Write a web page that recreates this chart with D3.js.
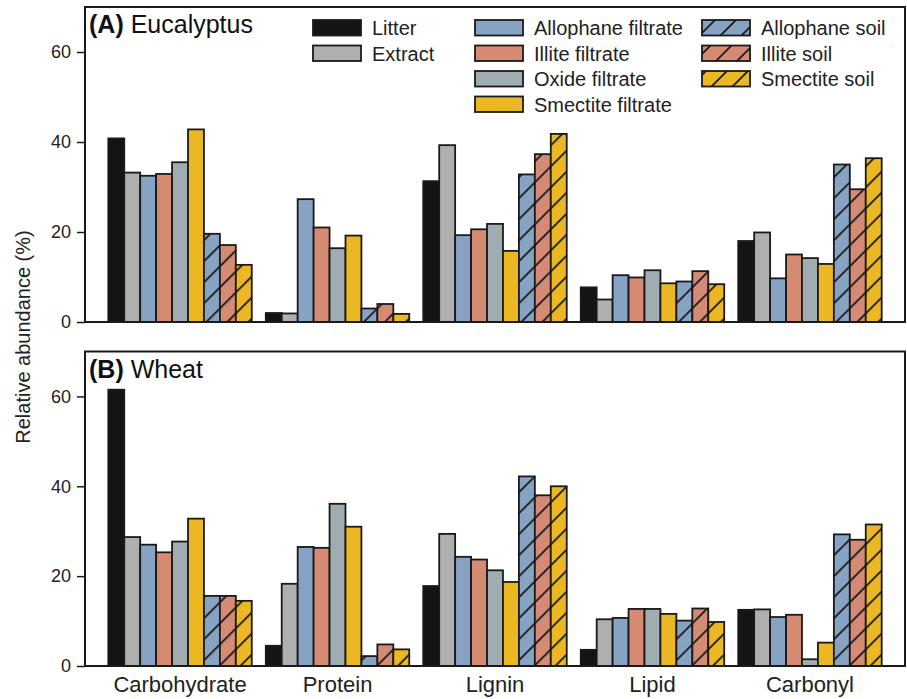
<!DOCTYPE html>
<html>
<head>
<meta charset="utf-8">
<script src="https://cdn.jsdelivr.net/npm/d3@7"></script>
<style>
  body { margin: 0; background: #fff; }
  svg { font-family: "Liberation Sans", Arial, sans-serif; }
</style>
</head>
<body>
<svg id="chart" width="907" height="699"></svg>
<script>
const categories = ['Carbohydrate', 'Protein', 'Lignin', 'Lipid', 'Carbonyl'];
const seriesNames = ['Litter', 'Extract', 'Allophane filtrate', 'Illite filtrate', 'Oxide filtrate',
  'Smectite filtrate', 'Allophane soil', 'Illite soil', 'Smectite soil'];
const seriesColors = ['#131513', '#afafaf', '#86a3c3', '#d58a74', '#a0adb0', '#ebb824', '#86a3c3', '#d58a74', '#ebb824'];
const seriesHatched = [false, false, false, false, false, false, true, true, true];
const yTicks = [0, 20, 40, 60];

// (A) Eucalyptus, one array per series, in category order
const eucLitter = [40.8, 2.0, 31.3, 7.7, 18.0];
const eucExtract = [33.2, 1.9, 39.3, 5.0, 19.9];
const eucAllophaneFiltrate = [32.5, 27.3, 19.3, 10.4, 9.7];
const eucIlliteFiltrate = [32.9, 21.0, 20.6, 9.9, 15.0];
const eucOxideFiltrate = [35.5, 16.4, 21.8, 11.5, 14.2];
const eucSmectiteFiltrate = [42.8, 19.2, 15.8, 8.6, 12.9];
const eucAllophaneSoil = [19.6, 3.0, 32.8, 9.0, 35.0];
const eucIlliteSoil = [17.1, 4.0, 37.3, 11.3, 29.5];
const eucSmectiteSoil = [12.7, 1.8, 41.8, 8.4, 36.4];

// (B) Wheat
const whtLitter = [61.5, 4.5, 17.8, 3.6, 12.5];
const whtExtract = [28.7, 18.3, 29.4, 10.4, 12.6];
const whtAllophaneFiltrate = [27.0, 26.5, 24.3, 10.7, 10.9];
const whtIlliteFiltrate = [25.3, 26.3, 23.7, 12.7, 11.4];
const whtOxideFiltrate = [27.7, 36.1, 21.3, 12.7, 1.5];
const whtSmectiteFiltrate = [32.8, 31.0, 18.7, 11.6, 5.2];
const whtAllophaneSoil = [15.6, 2.2, 42.2, 10.1, 29.3];
const whtIlliteSoil = [15.6, 4.8, 38.0, 12.8, 28.1];
const whtSmectiteSoil = [14.5, 3.7, 40.0, 9.8, 31.5];

const panels = [
  { letter: '(A)', name: 'Eucalyptus', top: 7, bottom: 322, xLabels: false,
    series: [eucLitter, eucExtract, eucAllophaneFiltrate, eucIlliteFiltrate, eucOxideFiltrate,
      eucSmectiteFiltrate, eucAllophaneSoil, eucIlliteSoil, eucSmectiteSoil] },
  { letter: '(B)', name: 'Wheat', top: 351.5, bottom: 666, xLabels: true,
    series: [whtLitter, whtExtract, whtAllophaneFiltrate, whtIlliteFiltrate, whtOxideFiltrate,
      whtSmectiteFiltrate, whtAllophaneSoil, whtIlliteSoil, whtSmectiteSoil] }
];

const svg = d3.select('#chart');
const left = 85, right = 905;
const ink = '#1a1a1a';

// hatch patterns for the soil series
const defs = svg.append('defs');
seriesNames.forEach((name, i) => {
  if (!seriesHatched[i]) return;
  const p = defs.append('pattern')
    .attr('id', 'hatch' + i)
    .attr('patternUnits', 'userSpaceOnUse')
    .attr('width', 21)
    .attr('height', 21);
  p.append('rect').attr('width', 21).attr('height', 21).attr('fill', seriesColors[i]);
  p.append('path')
    .attr('d', 'M0,21L21,0M-6,6L6,-6M15,27L27,15')
    .attr('stroke', ink)
    .attr('stroke-width', 1.8);
});
const fillFor = i => seriesHatched[i] ? `url(#hatch${i})` : seriesColors[i];

const x0 = d3.scaleBand()
  .domain(categories)
  .range([left, right])
  .paddingInner(0.089)
  .paddingOuter(0.148);

const x1 = d3.scaleBand()
  .domain(d3.range(seriesNames.length))
  .range([0, x0.bandwidth()]);

panels.forEach(panel => {
  const y = d3.scaleLinear()
    .domain([0, 70])
    .range([panel.bottom, panel.top]);

  const g = svg.append('g');

  // bars
  categories.forEach((cat, ci) => {
    g.append('g')
      .attr('transform', `translate(${x0(cat)},0)`)
      .selectAll('rect')
      .data(panel.series.map((vals, si) => ({ si, v: vals[ci] })))
      .join('rect')
      .attr('x', d => x1(d.si))
      .attr('y', d => y(d.v))
      .attr('width', x1.bandwidth())
      .attr('height', d => y(0) - y(d.v))
      .attr('fill', d => fillFor(d.si))
      .attr('stroke', ink)
      .attr('stroke-width', 1.8);
  });

  // frame
  g.append('rect')
    .attr('x', left)
    .attr('y', panel.top)
    .attr('width', right - left)
    .attr('height', panel.bottom - panel.top)
    .attr('fill', 'none')
    .attr('stroke', ink)
    .attr('stroke-width', 2);

  // y axis
  const yAxis = g.append('g')
    .attr('transform', `translate(${left},0)`)
    .call(d3.axisLeft(y).tickValues(yTicks).tickSize(8).tickPadding(6));
  yAxis.select('.domain').remove();
  yAxis.selectAll('line').attr('stroke', ink).attr('stroke-width', 1.5);
  yAxis.selectAll('text')
    .attr('font-size', 18)
    .attr('font-family', '"Liberation Sans", Arial, sans-serif')
    .attr('fill', '#222');

  if (panel.xLabels) {
    const xAxis = g.append('g')
      .attr('transform', `translate(0,${panel.bottom})`)
      .call(d3.axisBottom(x0).tickSize(0).tickPadding(10));
    xAxis.select('.domain').remove();
    xAxis.selectAll('text')
      .attr('font-size', 22)
      .attr('font-family', '"Liberation Sans", Arial, sans-serif')
      .attr('fill', '#222');
  }

  // panel title
  const title = g.append('text')
    .attr('x', 89)
    .attr('y', panel.top + 26)
    .attr('font-size', 25)
    .attr('fill', '#111');
  title.append('tspan').attr('font-weight', 'bold').text(panel.letter);
  title.append('tspan').text(' ' + panel.name);
});

// y axis title
svg.append('text')
  .attr('transform', 'translate(30,337) rotate(-90)')
  .attr('text-anchor', 'middle')
  .attr('font-size', 20)
  .attr('fill', '#222')
  .text('Relative abundance (%)');

// legend
const legendCols = [
  { x: 313, items: [0, 1] },
  { x: 475, items: [2, 3, 4, 5] },
  { x: 702, items: [6, 7, 8] }
];
legendCols.forEach(col => {
  col.items.forEach((si, row) => {
    const top = 20 + row * 25.5;
    svg.append('rect')
      .attr('x', col.x)
      .attr('y', top)
      .attr('width', 48)
      .attr('height', 15.5)
      .attr('fill', fillFor(si))
      .attr('stroke', ink)
      .attr('stroke-width', 1.8);
    svg.append('text')
      .attr('x', col.x + 59)
      .attr('y', top + 15)
      .attr('font-size', 20)
      .attr('fill', '#222')
      .text(seriesNames[si]);
  });
});
</script>
</body>
</html>
